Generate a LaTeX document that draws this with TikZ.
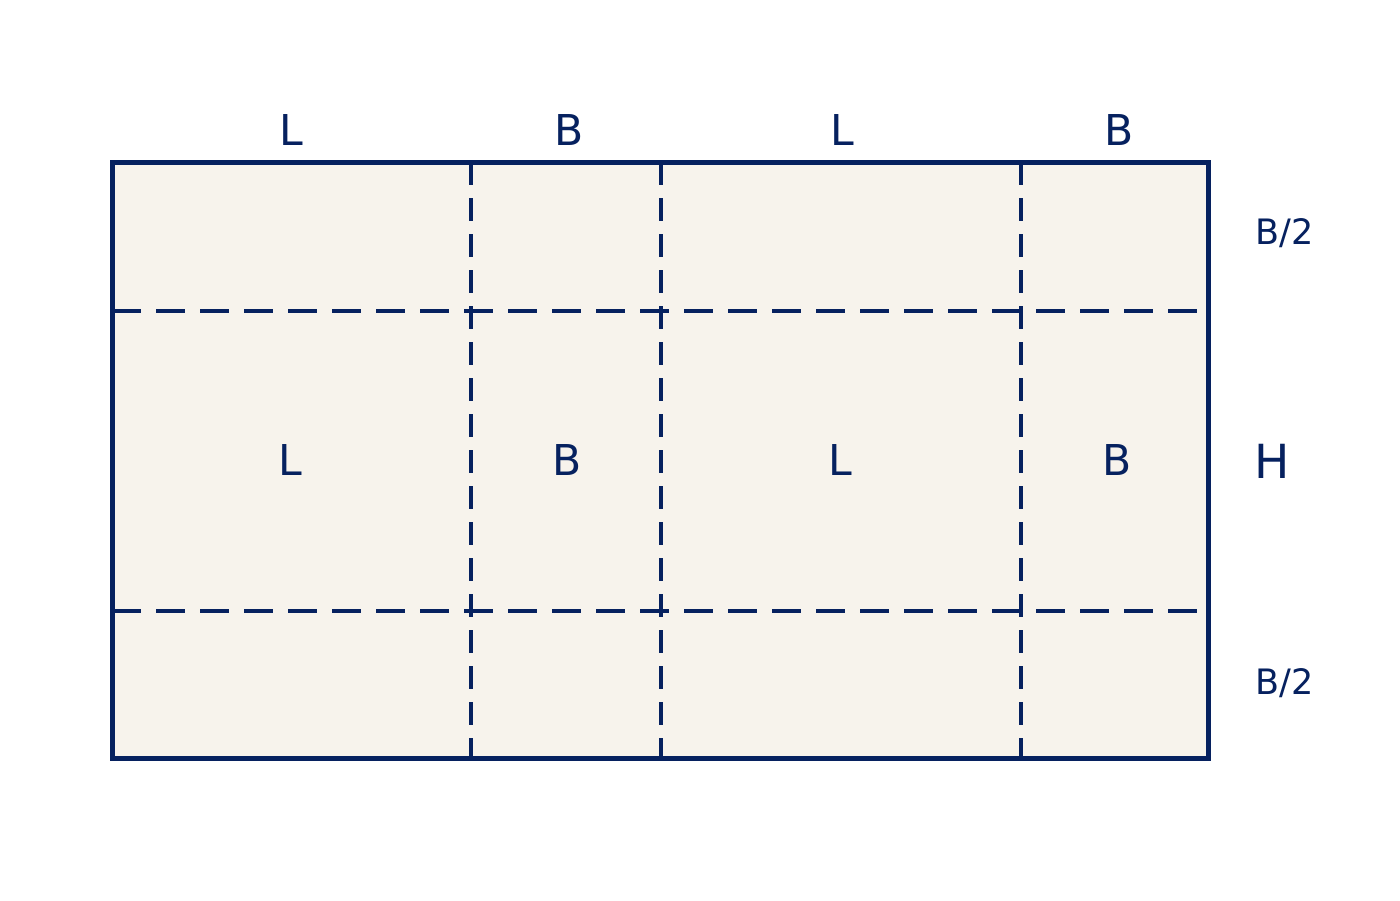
\documentclass[tikz,border=0pt]{standalone}
\usepackage{fontspec}
\setmainfont{DejaVu Sans}
\definecolor{navy}{HTML}{06215F}
\definecolor{paper}{HTML}{F7F3EC}
\tikzset{
  outer/.style={draw=navy, line width=5pt, fill=paper},
  hfold/.style={draw=navy, line width=4pt, dash pattern=on 29pt off 15pt},
  vfold/.style={draw=navy, line width=4pt, dash pattern=on 23pt off 13pt},
  lab/.style={text=navy, inner sep=0pt, anchor=base, font=\fontsize{42.5}{42.5}\selectfont},
  hlab/.style={text=navy, inner sep=0pt, anchor=base, font=\fontsize{47}{47}\selectfont},
  slab/.style={text=navy, inner sep=0pt, anchor=base, font=\fontsize{35}{35}\selectfont},
}
\begin{document}
\begin{tikzpicture}[x=1pt,y=-1pt]
\useasboundingbox (0,0) rectangle (1400,900);
\fill[white] (0,0) rectangle (1400,900);
\coordinate (tl) at (112,162);
\coordinate (br) at (1208,758);
\path[outer] (tl) rectangle (br);
% fold lines
\coordinate (v1t) at (471,162); \coordinate (v1b) at (471,758);
\coordinate (v2t) at (661,162); \coordinate (v2b) at (661,758);
\coordinate (v3t) at (1021,162); \coordinate (v3b) at (1021,758);
\coordinate (h1l) at (112,311); \coordinate (h1r) at (1208,311);
\coordinate (h2l) at (112,611); \coordinate (h2r) at (1208,611);
\draw[vfold] (v1t) -- (v1b);
\draw[vfold] (v2t) -- (v2b);
\draw[vfold] (v3t) -- (v3b);
\draw[hfold] (h1l) -- (h1r);
\draw[hfold] (h2l) -- (h2r);
\draw[navy, line width=5pt] (tl) rectangle (br);
% top labels
\node[lab] (tL1) at (291,145.5) {L};
\node[lab] (tB1) at (569,145.5) {B};
\node[lab] (tL2) at (842,145.5) {L};
\node[lab] (tB2) at (1119,145.5) {B};
% middle labels
\node[lab] (mL1) at (290,475) {L};
\node[lab] (mB1) at (567,475) {B};
\node[lab] (mL2) at (840,475) {L};
\node[lab] (mB2) at (1117,475) {B};
% right labels
\node[slab] (rB1) at (1285,244) {B/2};
\node[hlab] (rH) at (1272,478) {H};
\node[slab] (rB2) at (1285,694) {B/2};
\end{tikzpicture}
\end{document}
